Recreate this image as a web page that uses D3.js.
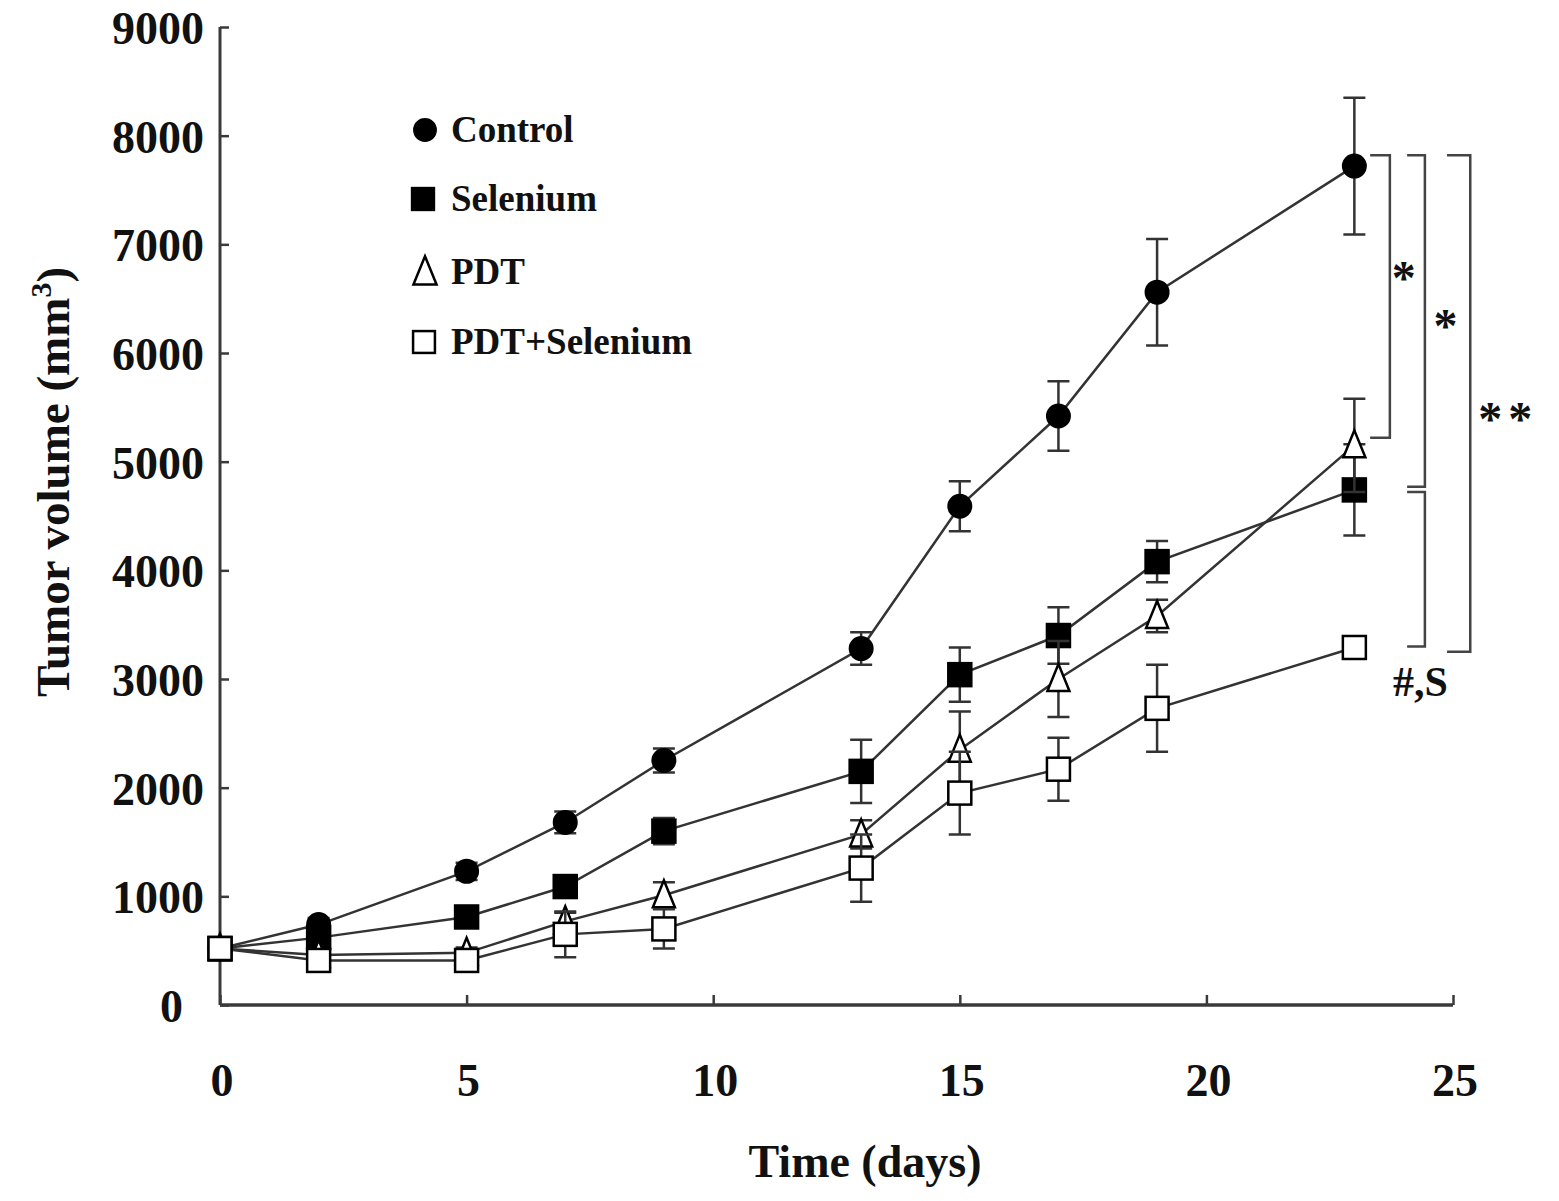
<!DOCTYPE html>
<html><head><meta charset="utf-8">
<script src="https://cdn.jsdelivr.net/npm/d3@7"></script>
<style>
html,body{margin:0;padding:0;background:#fff;}
svg text{font-family:"Liberation Serif","Times New Roman",serif;font-weight:bold;fill:#111;}
</style></head>
<body>
<svg id="chart" width="1559" height="1201"></svg>
<script>
// ---- data ----
const days = [0, 2, 5, 7, 9, 13, 15, 17, 19, 23];
const control     = [520, 740, 1230, 1680, 2250, 3280, 4590, 5420, 6560, 7720];
const controlErr  = [0, 60, 80, 100, 110, 150, 230, 320, 490, 630];
const selenium    = [520, 620, 810, 1090, 1600, 2150, 3040, 3400, 4080, 4740];
const seleniumErr = [0, 50, 60, 70, 120, 290, 250, 260, 190, 420];
const pdt         = [520, 460, 480, 770, 1010, 1570, 2350, 3000, 3580, 5150];
const pdtErr      = [0, 40, 50, 80, 120, 130, 350, 350, 150, 430];
const pdtSe       = [520, 410, 410, 650, 700, 1260, 1950, 2170, 2730, 3290];
const pdtSeErr    = [0, 40, 50, 210, 180, 310, 380, 290, 400, 60];
const seriesNames = ["Control", "Selenium", "PDT", "PDT+Selenium"];
const xTicks = [0, 5, 10, 15, 20, 25];
const yTicks = [0, 1000, 2000, 3000, 4000, 5000, 6000, 7000, 8000, 9000];
// significance brackets (day units / mm3 units)
const brackets = [
  {x0: 23.32, x1: 23.72, top: 7820, bottom: 5220, label: "*",   lx: 24.0,  ly: 6540},
  {x0: 24.07, x1: 24.43, top: 7820, bottom: 4770, label: "*",   lx: 24.85, ly: 6100},
  {x0: 24.07, x1: 24.43, top: 4720, bottom: 3300, label: "#,S", lx: 24.34, ly: 2840},
  {x0: 24.88, x1: 25.35, top: 7820, bottom: 3250, label: "**",  lx: 26.12, ly: 5250}
];

const svg = d3.select("#chart");
const x = d3.scaleLinear().domain([0, 25]).range([220, 1453]);
const y = d3.scaleLinear().domain([0, 9000]).range([1005, 27]);
const axisColor = "#3a3a3a";

// axes
const yAxis = svg.append("g").attr("transform", `translate(${x(0)},0)`)
  .call(d3.axisRight(y).tickValues(yTicks).tickSize(9).tickFormat(""));
yAxis.select(".domain").attr("d", `M0,${y(0)}V${y(9000)}`).attr("stroke", axisColor).attr("stroke-width", 3);
yAxis.selectAll(".tick line").attr("stroke", axisColor).attr("stroke-width", 2.5);

const xAxis = svg.append("g").attr("transform", `translate(0,${y(0)})`)
  .call(d3.axisTop(x).tickValues(xTicks).tickSize(10).tickFormat(""));
xAxis.select(".domain").attr("d", `M${x(0)},0H${x(25)}`).attr("stroke", axisColor).attr("stroke-width", 3.5);
xAxis.selectAll(".tick line").attr("stroke", axisColor).attr("stroke-width", 2.5);

// tick labels
svg.append("g").selectAll("text").data(yTicks).join("text")
  .attr("x", 204).attr("y", d => y(d) + 17)
  .attr("dx", d => d === 0 ? -21 : 0)
  .attr("text-anchor", "end").attr("font-size", 46)
  .text(d => d);
svg.append("g").selectAll("text").data(xTicks).join("text")
  .attr("x", d => x(d) + 2).attr("y", 1096)
  .attr("text-anchor", "middle").attr("font-size", 46)
  .text(d => d);

// axis titles
svg.append("text").attr("x", 865).attr("y", 1177).attr("text-anchor", "middle")
  .attr("font-size", 46).text("Time (days)");
const yl = svg.append("text").attr("transform", "translate(69,482) rotate(-90)")
  .attr("text-anchor", "middle").attr("font-size", 47);
yl.append("tspan").text("Tumor volume (mm");
yl.append("tspan").attr("font-size", 30).attr("dy", -18).text("3");
yl.append("tspan").attr("dy", 18).text(")");

// series
const series = [
  {name: seriesNames[0], vals: control,  err: controlErr,  shape: "circle",   fill: "#000"},
  {name: seriesNames[1], vals: selenium, err: seleniumErr, shape: "square",   fill: "#000"},
  {name: seriesNames[2], vals: pdt,      err: pdtErr,      shape: "triangle", fill: "#fff"},
  {name: seriesNames[3], vals: pdtSe,    err: pdtSeErr,    shape: "square",   fill: "#fff"}
];

const line = d3.line().x(d => x(d[0])).y(d => y(d[1]));
series.forEach(s => {
  svg.append("path").datum(days.map((d, i) => [d, s.vals[i]]))
    .attr("d", line).attr("fill", "none").attr("stroke", "#333").attr("stroke-width", 2.5);
});

function drawMarker(g, shape, fill, cx, cy, scale) {
  const k = scale || 1;
  if (shape === "circle") {
    g.append("circle").attr("cx", cx).attr("cy", cy).attr("r", 11.5 * k)
      .attr("fill", fill).attr("stroke", "#000").attr("stroke-width", 2);
  } else if (shape === "square") {
    const h = 11.5 * k;
    g.append("rect").attr("x", cx - h).attr("y", cy - h).attr("width", 2 * h).attr("height", 2 * h)
      .attr("fill", fill).attr("stroke", "#000").attr("stroke-width", 2.5);
  } else {
    const w = 11 * k, t = 15 * k, b = 12 * k;
    g.append("path").attr("d", `M${cx},${cy - t}L${cx + w},${cy + b}L${cx - w},${cy + b}Z`)
      .attr("fill", fill).attr("stroke", "#000").attr("stroke-width", 2.5).attr("stroke-linejoin", "miter");
  }
}

series.forEach(s => {
  const g = svg.append("g");
  days.forEach((d, i) => {
    const e = s.err[i];
    if (e > 0) {
      const cx = x(d), y1 = y(s.vals[i] + e), y0 = y(s.vals[i] - e);
      g.append("path").attr("d", `M${cx},${y1}V${y0}M${cx - 11},${y1}H${cx + 11}M${cx - 11},${y0}H${cx + 11}`)
        .attr("stroke", "#333").attr("stroke-width", 2.5).attr("fill", "none");
    }
  });
  days.forEach((d, i) => drawMarker(g, s.shape, s.fill, x(d), y(s.vals[i])));
});

// legend
const legendY = [130, 199, 272, 342];
const legendMX = [425, 423, 425, 424];
series.forEach((s, i) => {
  const g = svg.append("g");
  drawMarker(g, s.shape, s.fill, legendMX[i], legendY[i], s.shape === "triangle" ? 1.05 : 0.95);
  g.append("text").attr("x", 451).attr("y", legendY[i] + 12).attr("font-size", 37).text(s.name);
});

// brackets
brackets.forEach(b => {
  svg.append("path")
    .attr("d", `M${x(b.x0)},${y(b.top)}H${x(b.x1)}V${y(b.bottom)}H${x(b.x0)}`)
    .attr("fill", "none").attr("stroke", "#444").attr("stroke-width", 2.5);
  svg.append("text").attr("x", x(b.lx)).attr("y", y(b.ly))
    .attr("text-anchor", "middle")
    .attr("font-size", b.label === "#,S" ? 42 : 48)
    .attr("letter-spacing", b.label === "**" ? 6 : 0)
    .text(b.label);
});
</script>
</body></html>
